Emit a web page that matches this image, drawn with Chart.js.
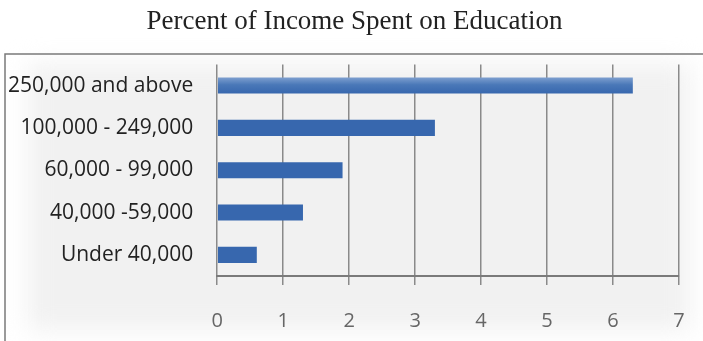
<!DOCTYPE html>
<html>
<head>
<meta charset="utf-8">
<title>Percent of Income Spent on Education</title>
<script src="https://cdn.jsdelivr.net/npm/chart.js@4"></script>
<style>
  html, body { margin: 0; padding: 0; background: #fff; }
  #wrap { width: 703px; height: 341px; position: relative; }
</style>
</head>
<body>
<div id="wrap"><canvas id="chart" width="703" height="341"></canvas></div>
<script>
// income brackets, top to bottom
const incomeGroups = ['250,000 and above', '100,000 - 249,000', '60,000 - 99,000', '40,000 -59,000', 'Under 40,000'];
// percent of income spent on education
const percentSpent = [6.3, 3.3, 1.9, 1.3, 0.6];
const xTicks = [0, 1, 2, 3, 4, 5, 6, 7];

const barBlue = '#3767ae';
const barThickness = 0.38;

// soft grey panel with a thin frame on the top and left
const panelPlugin = {
  id: 'panel',
  beforeDraw(chart) {
    const ctx = chart.ctx;
    ctx.save();
    ctx.fillStyle = '#fff';
    ctx.fillRect(0, 0, chart.width, chart.height);
    ctx.filter = 'blur(12px)';
    ctx.fillStyle = '#f1f1f1';
    ctx.fillRect(28, 64, 662, 266);
    ctx.filter = 'none';
    ctx.strokeStyle = '#7a7a7a';
    ctx.lineWidth = 1.5;
    ctx.beginPath();
    ctx.moveTo(5, chart.height + 2);
    ctx.lineTo(5, 54);
    ctx.lineTo(chart.width + 2, 54);
    ctx.stroke();
    ctx.restore();
  }
};

// the top bar has a lighter sheen along its upper edge
function barFill(context) {
  const chart = context.chart;
  const yScale = chart.scales.y;
  if (context.dataIndex !== 0 || !yScale) return barBlue;
  const cy = yScale.getPixelForValue(0);
  const h = (yScale.height / incomeGroups.length) * barThickness;
  if (!isFinite(cy) || !isFinite(h) || h <= 0) return barBlue;
  const g = chart.ctx.createLinearGradient(0, cy - h / 2, 0, cy + h / 2);
  g.addColorStop(0, '#7d9fcf');
  g.addColorStop(0.45, '#4a78b8');
  g.addColorStop(1, barBlue);
  return g;
}

new Chart(document.getElementById('chart'), {
  type: 'bar',
  data: {
    labels: incomeGroups,
    datasets: [{
      data: percentSpent,
      backgroundColor: barFill,
      borderWidth: 0,
      categoryPercentage: 1,
      barPercentage: barThickness
    }]
  },
  options: {
    indexAxis: 'y',
    responsive: false,
    animation: false,
    layout: { padding: { left: -16, right: -22, top: 0, bottom: -16 } },
    plugins: {
      legend: { display: false },
      tooltip: { enabled: false },
      title: {
        display: true,
        text: 'Percent of Income Spent on Education',
        color: '#222',
        font: { family: 'Liberation Serif', size: 27, weight: 'normal' },
        padding: { top: 6, bottom: 26 }
      }
    },
    scales: {
      x: {
        min: 0,
        max: 7,
        afterBuildTicks(axis) { axis.ticks = xTicks.map(v => ({ value: v })); },
        // keep the plot's right edge a fixed distance from the canvas edge
        afterFit(axis) { axis.paddingLeft = 0; axis.paddingRight = 24; },
        grid: { color: '#8a8a8a', lineWidth: 1.5, tickLength: 9, drawOnChartArea: true },
        border: { color: '#7a7a7a', width: 2 },
        ticks: { color: '#666', padding: 24, font: { family: 'Open Sans', size: 20 } }
      },
      y: {
        grid: { display: false, drawTicks: false },
        border: { display: false },
        ticks: { color: '#222', padding: 24, font: { family: 'Open Sans', size: 21 } }
      }
    }
  },
  plugins: [panelPlugin]
});
</script>
</body>
</html>
